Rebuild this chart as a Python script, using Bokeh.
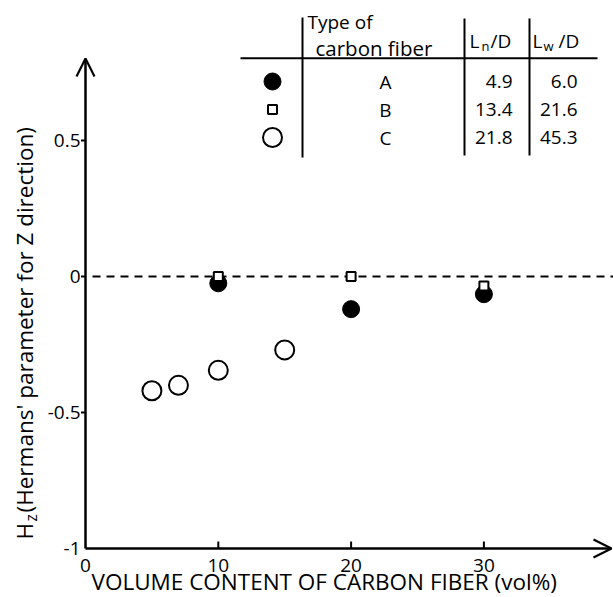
from bokeh.plotting import figure
from bokeh.models import Label, Arrow, OpenHead, Range1d
from bokeh.embed import file_html
from bokeh.resources import INLINE

# ---------------- data ----------------
x_A = [10, 20, 30]
y_A = [-0.025, -0.12, -0.065]
x_B = [10, 20, 30]
y_B = [0.0, 0.0, -0.035]
x_C = [5, 7, 10, 15]
y_C = [-0.42, -0.40, -0.345, -0.27]

x_ticks = [0, 10, 20, 30]
x_tick_labels = ["0", "10", "20", "30"]
y_ticks = [-1, -0.5, 0, 0.5]
y_tick_labels = ["-1", "-0.5", "0", "0.5"]

fiber_types = ["A", "B", "C"]
ln_over_d = ["4.9", "13.4", "21.8"]
lw_over_d = ["6.0", "21.6", "45.3"]

x_title = "VOLUME CONTENT OF CARBON FIBER (vol%)"
y_title_main = "H"
y_title_sub = "z"
y_title_rest = "(Hermans' parameter for Z direction)"

FONT = "Open Sans"

# ---------------- layout ----------------
W, H = 613, 597
X0_PX = 85          # pixel column of x = 0
YM1_PX = 548        # pixel row of y = -1
PX_PER_X = 13.28
PX_PER_Y = 272.0
Y_MIN = -1.0


def dx(px):
    return (px - X0_PX) / PX_PER_X


def dy(py):
    return (YM1_PX - py) / PX_PER_Y + Y_MIN


p = figure(width=W, height=H, x_range=Range1d(dx(0), dx(W)), y_range=Range1d(dy(H), dy(0)),
           output_backend="svg", toolbar_location=None,
           x_axis_location=None, y_axis_location=None,
           min_border_left=0, min_border_right=0, min_border_top=0, min_border_bottom=0)
p.grid.visible = False
p.outline_line_color = None
p.background_fill_color = "white"
p.border_fill_color = "white"


def lab(px, py, text, size, align="left", angle=0, baseline="middle"):
    p.add_layout(Label(x=dx(px), y=dy(py), text=text, text_font=FONT, text_font_size=size,
                       text_align=align, text_baseline=baseline, text_color="black",
                       angle=angle, angle_units="deg"))


# axis arrows
p.add_layout(Arrow(end=OpenHead(size=18, line_width=2.2), x_start=0, y_start=Y_MIN,
                   x_end=0, y_end=dy(58), line_width=2.5))
p.add_layout(Arrow(end=OpenHead(size=18, line_width=2.2), x_start=0, y_start=Y_MIN,
                   x_end=dx(611), y_end=Y_MIN, line_width=2.5))

# tick marks (x ticks point inward, y ticks outward)
xt = [t for t in x_ticks if t > 0]
p.segment(x0=xt, y0=[Y_MIN] * len(xt), x1=xt, y1=[Y_MIN + 7 / PX_PER_Y] * len(xt),
          line_color="black", line_width=2)
yt = [t for t in y_ticks if t > Y_MIN]
p.segment(x0=[-4.5 / PX_PER_X] * len(yt), y0=yt, x1=[0] * len(yt), y1=yt,
          line_color="black", line_width=2)

# tick labels placed at the tick values
for t, s in zip(x_ticks, x_tick_labels):
    p.add_layout(Label(x=t, y=Y_MIN, y_offset=-17, text=s, text_font=FONT, text_font_size="19px",
                       text_align="center", text_baseline="middle", text_color="black"))
for t, s in zip(y_ticks, y_tick_labels):
    p.add_layout(Label(x=0, x_offset=-5, y=t, text=s, text_font=FONT, text_font_size="19px",
                       text_align="right", text_baseline="middle", text_color="black"))

# zero reference line
p.segment(x0=[dx(92)], y0=[0], x1=[dx(W)], y1=[0], line_color="black",
          line_width=1.8, line_dash="8 6")

# data
p.scatter(x_C, y_C, marker="circle", size=19, fill_color="white", line_color="black", line_width=2)
p.scatter(x_A, y_A, marker="circle", size=17, fill_color="black", line_color="black")
p.scatter(x_B, y_B, marker="square", size=9, fill_color="white", line_color="black", line_width=2)

# axis titles
lab(91, 596, x_title, "22.5px", baseline="bottom")
lab(24, 539, y_title_main, "22.5px", angle=90)
lab(30, 521, y_title_sub, "15.5px", angle=90)
lab(24, 512, y_title_rest, "22.5px", angle=90)

# ---------------- legend table ----------------
p.segment(x0=[dx(240), dx(302), dx(464), dx(529)],
          y0=[dy(57.7), dy(17), dy(18), dy(18)],
          x1=[dx(597), dx(302), dx(464), dx(529)],
          y1=[dy(57.7), dy(157), dy(155), dy(155)],
          line_color="black", line_width=2)

row_py = [81, 109, 137]
p.scatter([dx(272)], [dy(row_py[0])], marker="circle", size=17, fill_color="black", line_color="black")
p.scatter([dx(272)], [dy(row_py[1])], marker="square", size=9, fill_color="white", line_color="black", line_width=2)
p.scatter([dx(272)], [dy(row_py[2])], marker="circle", size=19, fill_color="white", line_color="black", line_width=2)

lab(307, 21, "Type of", "19px")
lab(315, 47, "carbon fiber", "20.5px")
lab(469, 40, "L", "19px")
lab(481, 45, "n", "13px")
lab(490, 40, "/D", "19px")
lab(532, 40, "L", "19px")
lab(543, 45, "w", "13px")
lab(558, 40, "/D", "19px")

for i, py in enumerate(row_py):
    lab(385, py, fiber_types[i], "19px", "center")
    lab(512, py, ln_over_d[i], "19px", "right")
    lab(577, py, lw_over_d[i], "19px", "right")

open("out.html", "w").write(file_html(p, INLINE))
